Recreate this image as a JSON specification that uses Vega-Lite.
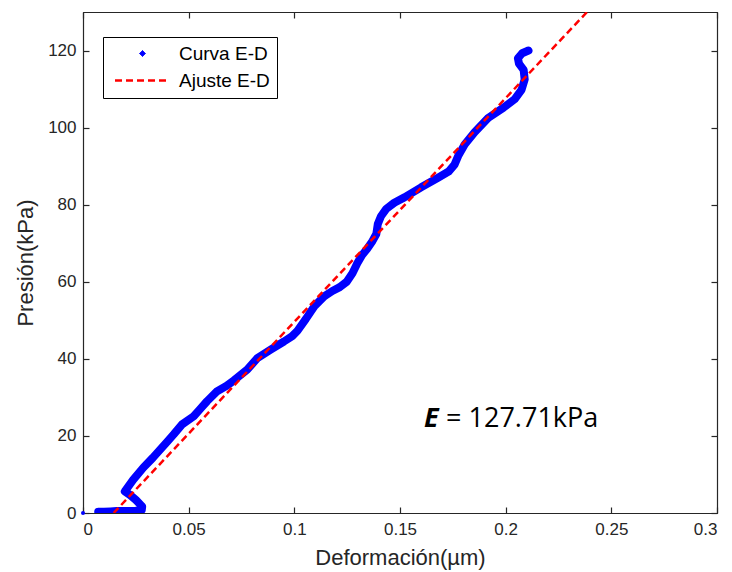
{
  "$schema": "https://vega.github.io/schema/vega-lite/v6.json",
  "autosize": {"type": "none"},
  "width": 634,
  "height": 501,
  "padding": {"left": 83, "top": 12, "right": 15, "bottom": 59},
  "background": "#ffffff",
  "config": {
    "view": {"stroke": "#262626", "strokeWidth": 1},
    "axis": {
      "grid": false,
      "labelFont": "Liberation Sans",
      "labelFontSize": 17,
      "labelColor": "#262626",
      "titleFont": "Liberation Sans",
      "titleFontSize": 22,
      "titleFontWeight": "normal",
      "titleColor": "#262626",
      "domainColor": "#262626",
      "tickColor": "#262626",
      "tickSize": -6,
      "domainWidth": 1.2,
      "tickWidth": 1.2
    }
  },
  "datasets": {
    "curve": [
      {"k": 1, "x": 0.0072, "y": 0.3},
      {"k": 2, "x": 0.0100, "y": 0.3},
      {"k": 3, "x": 0.0130, "y": 0.4},
      {"k": 4, "x": 0.0160, "y": 0.5},
      {"k": 5, "x": 0.0190, "y": 0.5},
      {"k": 6, "x": 0.0220, "y": 0.5},
      {"k": 7, "x": 0.0250, "y": 0.6},
      {"k": 8, "x": 0.0278, "y": 0.8},
      {"k": 9, "x": 0.0280, "y": 1.7},
      {"k": 10, "x": 0.0250, "y": 3.4},
      {"k": 11, "x": 0.0222, "y": 4.7},
      {"k": 12, "x": 0.0198, "y": 5.6},
      {"k": 13, "x": 0.0237, "y": 8.6},
      {"k": 14, "x": 0.0286, "y": 11.8},
      {"k": 15, "x": 0.0330, "y": 14.3},
      {"k": 16, "x": 0.0366, "y": 16.5},
      {"k": 17, "x": 0.0400, "y": 18.6},
      {"k": 18, "x": 0.0429, "y": 20.4},
      {"k": 19, "x": 0.0469, "y": 23.0},
      {"k": 20, "x": 0.0524, "y": 25.1},
      {"k": 21, "x": 0.0555, "y": 27.0},
      {"k": 22, "x": 0.0587, "y": 29.0},
      {"k": 23, "x": 0.0635, "y": 31.6},
      {"k": 24, "x": 0.0680, "y": 33.0},
      {"k": 25, "x": 0.0714, "y": 34.4},
      {"k": 26, "x": 0.0777, "y": 37.2},
      {"k": 27, "x": 0.0825, "y": 40.2},
      {"k": 28, "x": 0.0888, "y": 42.4},
      {"k": 29, "x": 0.0951, "y": 44.5},
      {"k": 30, "x": 0.0990, "y": 45.9},
      {"k": 31, "x": 0.1015, "y": 47.3},
      {"k": 32, "x": 0.1054, "y": 50.3},
      {"k": 33, "x": 0.1094, "y": 53.6},
      {"k": 34, "x": 0.1141, "y": 56.2},
      {"k": 35, "x": 0.1180, "y": 57.6},
      {"k": 36, "x": 0.1215, "y": 58.6},
      {"k": 37, "x": 0.1248, "y": 60.0},
      {"k": 38, "x": 0.1275, "y": 62.2},
      {"k": 39, "x": 0.1298, "y": 64.8},
      {"k": 40, "x": 0.1320, "y": 66.9},
      {"k": 41, "x": 0.1344, "y": 68.5},
      {"k": 42, "x": 0.1370, "y": 70.6},
      {"k": 43, "x": 0.1388, "y": 72.4},
      {"k": 44, "x": 0.1395, "y": 75.0},
      {"k": 45, "x": 0.1410, "y": 77.0},
      {"k": 46, "x": 0.1435, "y": 78.9},
      {"k": 47, "x": 0.1473, "y": 80.5},
      {"k": 48, "x": 0.1521, "y": 81.9},
      {"k": 49, "x": 0.1600, "y": 84.5},
      {"k": 50, "x": 0.1680, "y": 87.0},
      {"k": 51, "x": 0.1730, "y": 88.6},
      {"k": 52, "x": 0.1758, "y": 90.4},
      {"k": 53, "x": 0.1775, "y": 92.6},
      {"k": 54, "x": 0.1806, "y": 95.6},
      {"k": 55, "x": 0.1853, "y": 98.8},
      {"k": 56, "x": 0.1917, "y": 102.5},
      {"k": 57, "x": 0.1990, "y": 105.2},
      {"k": 58, "x": 0.2043, "y": 107.4},
      {"k": 59, "x": 0.2075, "y": 109.8},
      {"k": 60, "x": 0.2090, "y": 112.5},
      {"k": 61, "x": 0.2085, "y": 115.0},
      {"k": 62, "x": 0.2063, "y": 116.6},
      {"k": 63, "x": 0.2058, "y": 118.0},
      {"k": 64, "x": 0.2078, "y": 119.3},
      {"k": 65, "x": 0.2108, "y": 120.0}
    ],
    "dot": [{"x": 0, "y": 0}],
    "fit": [
      {"x": 0.0145, "y": 0},
      {"x": 0.2385, "y": 130}
    ],
    "note": [{"x": 0.1614, "y": 22.4, "a": "E", "b": "= 127.71kPa"}]
  },
  "resolve": {"axis": {"x": "independent", "y": "independent"}},
  "layer": [
    {
      "data": {"name": "curve"},
      "mark": {"type": "line", "strokeWidth": 8, "strokeCap": "round", "strokeJoin": "round", "clip": true},
      "encoding": {
        "x": {"field": "x", "type": "quantitative", "scale": {"domain": [0, 0.3], "nice": false, "zero": false},
              "axis": {"orient": "top", "labels": false, "title": null, "values": [0, 0.05, 0.1, 0.15, 0.2, 0.25, 0.3]}},
        "y": {"field": "y", "type": "quantitative", "scale": {"domain": [0, 130], "nice": false, "zero": false},
              "axis": {"orient": "right", "labels": false, "title": null, "values": [0, 20, 40, 60, 80, 100, 120]}},
        "order": {"field": "k", "type": "quantitative"},
        "color": {
          "datum": "Curva E-D",
          "type": "nominal",
          "scale": {"domain": ["Curva E-D", "Ajuste E-D"], "range": ["#0000ff", "#ff0000"]},
          "legend": {
            "orient": "none",
            "legendX": 20,
            "legendY": 25,
            "title": null,
            "strokeColor": "#000000",
            "fillColor": "#ffffff",
            "padding": 7,
            "labelFont": "Liberation Sans",
            "labelFontSize": 19,
            "labelColor": "#000000",
            "symbolType": "stroke",
            "symbolSize": 500,
            "symbolStrokeWidth": 2.5,
            "symbolOffset": 23,
            "labelOffset": 27,
            "rowPadding": 7,
            "encode": {
              "symbols": {
                "update": {
                  "shape": {"signal": "datum.label === 'Curva E-D' ? 'diamond' : 'stroke'"},
                  "size": {"signal": "datum.label === 'Curva E-D' ? 36 : 3025"},
                  "fill": {"signal": "datum.label === 'Curva E-D' ? '#0000ff' : 'transparent'"},
                  "stroke": {"signal": "datum.label === 'Curva E-D' ? '#0000ff' : '#ff0000'"},
                  "strokeDash": {"signal": "datum.label === 'Curva E-D' ? [1, 0] : [7, 4]"},
                  "strokeWidth": {"signal": "datum.label === 'Curva E-D' ? 1 : 2.5"},
                  "opacity": {"value": 1}
                }
              }
            }
          }
        }
      }
    },
    {
      "data": {"name": "curve"},
      "mark": {"type": "point", "filled": true, "size": 40, "opacity": 1, "clip": true},
      "encoding": {
        "x": {"field": "x", "type": "quantitative", "axis": null},
        "y": {"field": "y", "type": "quantitative", "axis": null},
        "color": {"datum": "Curva E-D", "type": "nominal"}
      }
    },
    {
      "data": {"name": "dot"},
      "mark": {"type": "point", "filled": true, "size": 16, "opacity": 1},
      "encoding": {
        "x": {"field": "x", "type": "quantitative", "axis": null},
        "y": {"field": "y", "type": "quantitative", "axis": null},
        "color": {"datum": "Curva E-D", "type": "nominal"}
      }
    },
    {
      "data": {"name": "fit"},
      "mark": {"type": "line", "strokeWidth": 2.5, "strokeDash": [7, 4], "clip": true},
      "encoding": {
        "x": {"field": "x", "type": "quantitative",
              "axis": {"orient": "bottom", "title": "Deformación(µm)", "values": [0, 0.05, 0.1, 0.15, 0.2, 0.25, 0.3], "format": "~g", "labelPadding": 14, "titlePadding": 10}},
        "y": {"field": "y", "type": "quantitative",
              "axis": {"orient": "left", "title": "Presión(kPa)", "values": [0, 20, 40, 60, 80, 100, 120], "labelPadding": 13, "titlePadding": 10}},
        "color": {"datum": "Ajuste E-D", "type": "nominal"}
      }
    },
    {
      "data": {"name": "note"},
      "mark": {"type": "text", "font": "Open Sans", "fontSize": 27, "fontWeight": "bold", "fontStyle": "italic", "align": "left", "baseline": "alphabetic", "color": "#000000"},
      "encoding": {
        "x": {"field": "x", "type": "quantitative", "axis": null},
        "y": {"field": "y", "type": "quantitative", "axis": null},
        "text": {"field": "a"}
      }
    },
    {
      "data": {"name": "note"},
      "mark": {"type": "text", "font": "Open Sans", "fontSize": 27, "align": "left", "baseline": "alphabetic", "dx": 22, "color": "#000000"},
      "encoding": {
        "x": {"field": "x", "type": "quantitative", "axis": null},
        "y": {"field": "y", "type": "quantitative", "axis": null},
        "text": {"field": "b"}
      }
    }
  ]
}
